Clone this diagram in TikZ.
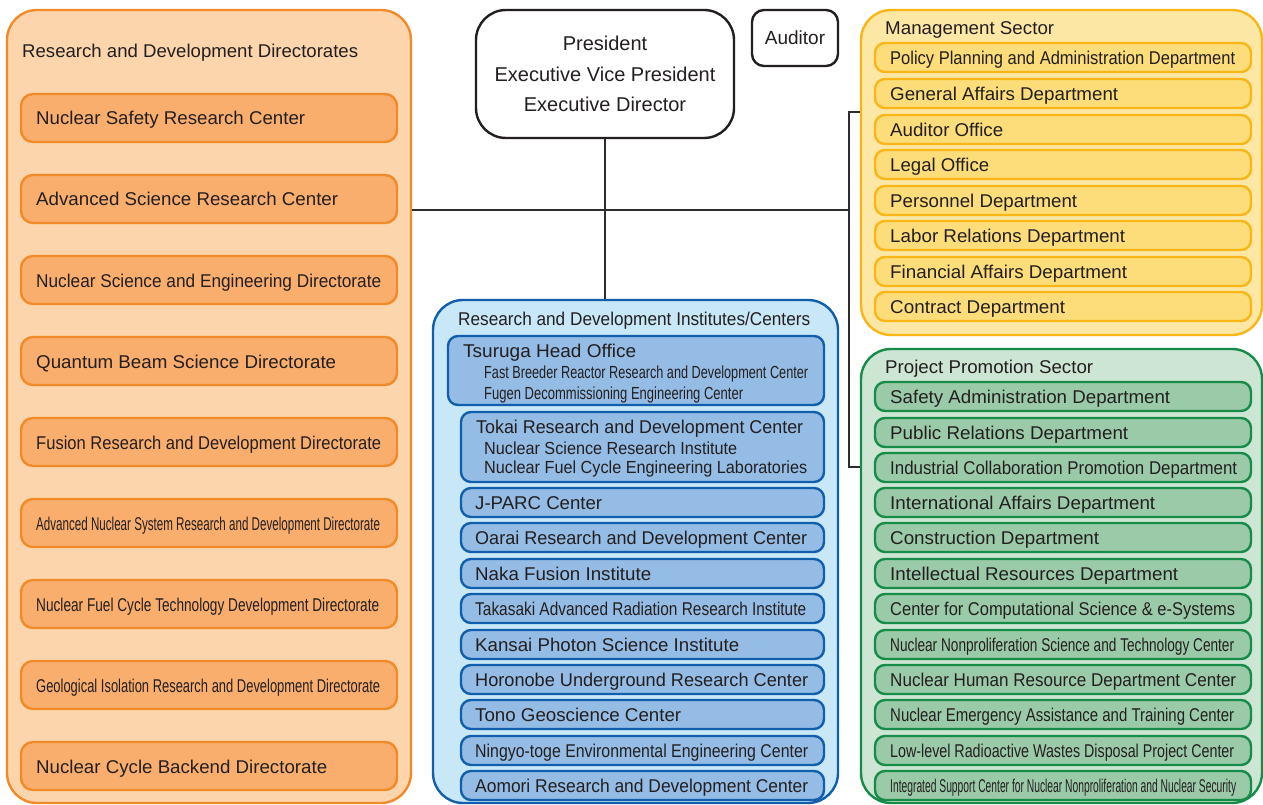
\documentclass[tikz,border=0pt]{standalone}
\usepackage{fontspec}
\setmainfont{Liberation Sans}
\usepackage{graphicx}
\definecolor{ink}{RGB}{35,31,32}
\definecolor{lineC}{RGB}{45,45,45}
\definecolor{orS}{RGB}{241,138,40}
\definecolor{orO}{RGB}{252,213,172}
\definecolor{orI}{RGB}{249,174,110}
\definecolor{blS}{RGB}{17,95,172}
\definecolor{blO}{RGB}{200,232,248}
\definecolor{blI}{RGB}{148,188,228}
\definecolor{yeS}{RGB}{249,182,22}
\definecolor{yeO}{RGB}{253,231,165}
\definecolor{yeI}{RGB}{252,221,122}
\definecolor{grS}{RGB}{22,140,72}
\definecolor{grO}{RGB}{205,230,212}
\definecolor{grI}{RGB}{155,202,168}
\newcommand{\obox}[6]{%
  \node[#1, minimum width={#5-#3}, minimum height={#6-#4}] (#2) at ({(#3+#5)/2},{(#4+#6)/2}) {};}
\newcommand{\ibox}[9]{%
  \node[#1, minimum width={#5-#3}, minimum height={#6-#4}] (#2) at ({(#3+#5)/2},{(#4+#6)/2}) {};
  \node[txt, anchor=base west] (#2t) at (#7,{(#4+#6)/2+7}) {\resizebox{#8pt}{\height}{#9}};}
\begin{document}
\begin{tikzpicture}[x=1pt,y=-1pt,
  txt/.style={inner sep=0, text=ink, font=\fontsize{18.5}{22}\selectfont},
  subtxt/.style={inner sep=0, text=ink, font=\fontsize{17.5}{21}\selectfont},
  conn/.style={draw=lineC, line width=2.3pt},
  outerO/.style={draw=orS, fill=orO, line width=2.4pt, rounded corners=30pt, inner sep=0},
  innerO/.style={draw=orS, fill=orI, line width=2.4pt, rounded corners=12pt, inner sep=0},
  outerB/.style={draw=blS, fill=blO, line width=2.4pt, rounded corners=30pt, inner sep=0},
  innerB/.style={draw=blS, fill=blI, line width=2.4pt, rounded corners=10pt, inner sep=0},
  outerY/.style={draw=yeS, fill=yeO, line width=2.4pt, rounded corners=30pt, inner sep=0},
  innerY/.style={draw=yeS, fill=yeI, line width=2.4pt, rounded corners=10pt, inner sep=0},
  outerG/.style={draw=grS, fill=grO, line width=2.4pt, rounded corners=30pt, inner sep=0},
  innerG/.style={draw=grS, fill=grI, line width=2.4pt, rounded corners=10pt, inner sep=0},
  topbox/.style={draw=ink, fill=white, line width=2.4pt, inner sep=0, text=ink, align=center}]
\useasboundingbox (0,0) rectangle (1263,805);

% ---------- outer boxes ----------
\obox{outerO}{rdd}{7}{10}{411}{803}
\obox{outerB}{inst}{433}{300}{838}{803}
\obox{outerY}{mgmt}{861}{10}{1262}{335}
\obox{outerG}{proj}{861}{349}{1262}{803}

% ---------- top boxes ----------
\node[topbox, rounded corners=30pt, minimum width=258, minimum height=128,
      font=\fontsize{20}{30.5}\selectfont] (pres) at (605,74)
      {President\\Executive Vice President\\Executive Director};
\node[topbox, rounded corners=12pt, minimum width=86, minimum height=56,
      font=\fontsize{19}{22}\selectfont] (aud) at (795,38) {Auditor};

% ---------- connectors ----------
\coordinate (j) at (849,210);
\coordinate (jt) at (849,112);
\coordinate (jb) at (849,467);
\draw[conn] (pres.south) -- (pres.south |- inst.north);
\draw[conn] (j -| rdd.east) -- (j);
\draw[conn] (jt -| mgmt.west) -- (jt) -- (jb) -- (jb -| proj.west);

% ---------- titles ----------
\node[txt, anchor=base west] (rddt) at (22,58) {\resizebox{336pt}{\height}{Research and Development Directorates}};
\node[txt, anchor=base west] (instt) at (458,325) {\resizebox{352pt}{\height}{Research and Development Institutes/Centers}};
\node[txt, anchor=base west] (mgmtt) at (885,35) {\resizebox{169pt}{\height}{Management Sector}};
\node[txt, anchor=base west] (projt) at (885,373) {\resizebox{208pt}{\height}{Project Promotion Sector}};

% ---------- left column ----------
\ibox{innerO}{o1}{21}{94}{397}{142}{36}{269}{Nuclear Safety Research Center}
\ibox{innerO}{o2}{21}{175}{397}{223}{36}{302}{Advanced Science Research Center}
\ibox{innerO}{o3}{21}{256}{397}{304}{36}{345}{Nuclear Science and Engineering Directorate}
\ibox{innerO}{o4}{21}{337}{397}{385}{36}{300}{Quantum Beam Science Directorate}
\ibox{innerO}{o5}{21}{418}{397}{466}{36}{345}{Fusion Research and Development Directorate}
\ibox{innerO}{o6}{21}{499}{397}{547}{36}{344}{Advanced Nuclear System Research and Development Directorate}
\ibox{innerO}{o7}{21}{580}{397}{628}{36}{343}{Nuclear Fuel Cycle Technology Development Directorate}
\ibox{innerO}{o8}{21}{661}{397}{709}{36}{344}{Geological Isolation Research and Development Directorate}
\ibox{innerO}{o9}{21}{742}{397}{790}{36}{291}{Nuclear Cycle Backend Directorate}

% ---------- institutes ----------
\obox{innerB}{tsu}{448}{336}{824}{405}
\node[txt, anchor=base west] (tsu1) at (463,357) {\resizebox{173pt}{\height}{Tsuruga Head Office}};
\node[subtxt, anchor=base west] (tsu2) at (484,378) {\resizebox{324pt}{\height}{Fast Breeder Reactor Research and Development Center}};
\node[subtxt, anchor=base west] (tsu3) at (484,399) {\resizebox{259pt}{\height}{Fugen Decommissioning Engineering Center}};
\obox{innerB}{tok}{461}{412}{824}{482}
\node[txt, anchor=base west] (tok1) at (476,433) {\resizebox{327pt}{\height}{Tokai Research and Development Center}};
\node[subtxt, anchor=base west] (tok2) at (484,454) {\resizebox{253pt}{\height}{Nuclear Science Research Institute}};
\node[subtxt, anchor=base west] (tok3) at (484,473) {\resizebox{323pt}{\height}{Nuclear Fuel Cycle Engineering Laboratories}};
\ibox{innerB}{b1}{461}{488}{824}{517}{475}{127}{J-PARC Center}
\ibox{innerB}{b2}{461}{523}{824}{552}{475}{332}{Oarai Research and Development Center}
\ibox{innerB}{b3}{461}{559}{824}{588}{475}{176}{Naka Fusion Institute}
\ibox{innerB}{b4}{461}{594}{824}{623}{475}{331}{Takasaki Advanced Radiation Research Institute}
\ibox{innerB}{b5}{461}{630}{824}{659}{475}{264}{Kansai Photon Science Institute}
\ibox{innerB}{b6}{461}{665}{824}{694}{475}{333}{Horonobe Underground Research Center}
\ibox{innerB}{b7}{461}{700}{824}{729}{475}{206}{Tono Geoscience Center}
\ibox{innerB}{b8}{461}{736}{824}{765}{475}{333}{Ningyo-toge Environmental Engineering Center}
\ibox{innerB}{b9}{461}{771}{824}{800}{475}{333}{Aomori Research and Development Center}

% ---------- management sector ----------
\ibox{innerY}{y1}{875}{43}{1251}{72}{890}{345}{Policy Planning and Administration Department}
\ibox{innerY}{y2}{875}{79}{1251}{108}{890}{228}{General Affairs Department}
\ibox{innerY}{y3}{875}{115}{1251}{144}{890}{113}{Auditor Office}
\ibox{innerY}{y4}{875}{150}{1251}{179}{890}{99}{Legal Office}
\ibox{innerY}{y5}{875}{186}{1251}{215}{890}{187}{Personnel Department}
\ibox{innerY}{y6}{875}{221}{1251}{250}{890}{235}{Labor Relations Department}
\ibox{innerY}{y7}{875}{257}{1251}{286}{890}{237}{Financial Affairs Department}
\ibox{innerY}{y8}{875}{292}{1251}{321}{890}{175}{Contract Department}

% ---------- project promotion sector ----------
\ibox{innerG}{g1}{875}{382}{1251}{411}{890}{280}{Safety Administration Department}
\ibox{innerG}{g2}{875}{418}{1251}{447}{890}{238}{Public Relations Department}
\ibox{innerG}{g3}{875}{453}{1251}{482}{890}{347}{Industrial Collaboration Promotion Department}
\ibox{innerG}{g4}{875}{488}{1251}{517}{890}{265}{International Affairs Department}
\ibox{innerG}{g5}{875}{523}{1251}{552}{890}{209}{Construction Department}
\ibox{innerG}{g6}{875}{559}{1251}{588}{890}{288}{Intellectual Resources Department}
\ibox{innerG}{g7}{875}{594}{1251}{623}{890}{345}{Center for Computational Science \& e-Systems}
\ibox{innerG}{g8}{875}{630}{1251}{659}{890}{344}{Nuclear Nonproliferation Science and Technology Center}
\ibox{innerG}{g9}{875}{665}{1251}{694}{890}{346}{Nuclear Human Resource Department Center}
\ibox{innerG}{g10}{875}{700}{1251}{729}{890}{344}{Nuclear Emergency Assistance and Training Center}
\ibox{innerG}{g11}{875}{736}{1251}{765}{890}{344}{Low-level Radioactive Wastes Disposal Project Center}
\ibox{innerG}{g12}{875}{771}{1251}{800}{890}{346}{Integrated Support Center for Nuclear Nonproliferation and Nuclear Security}
\end{tikzpicture}
\end{document}
